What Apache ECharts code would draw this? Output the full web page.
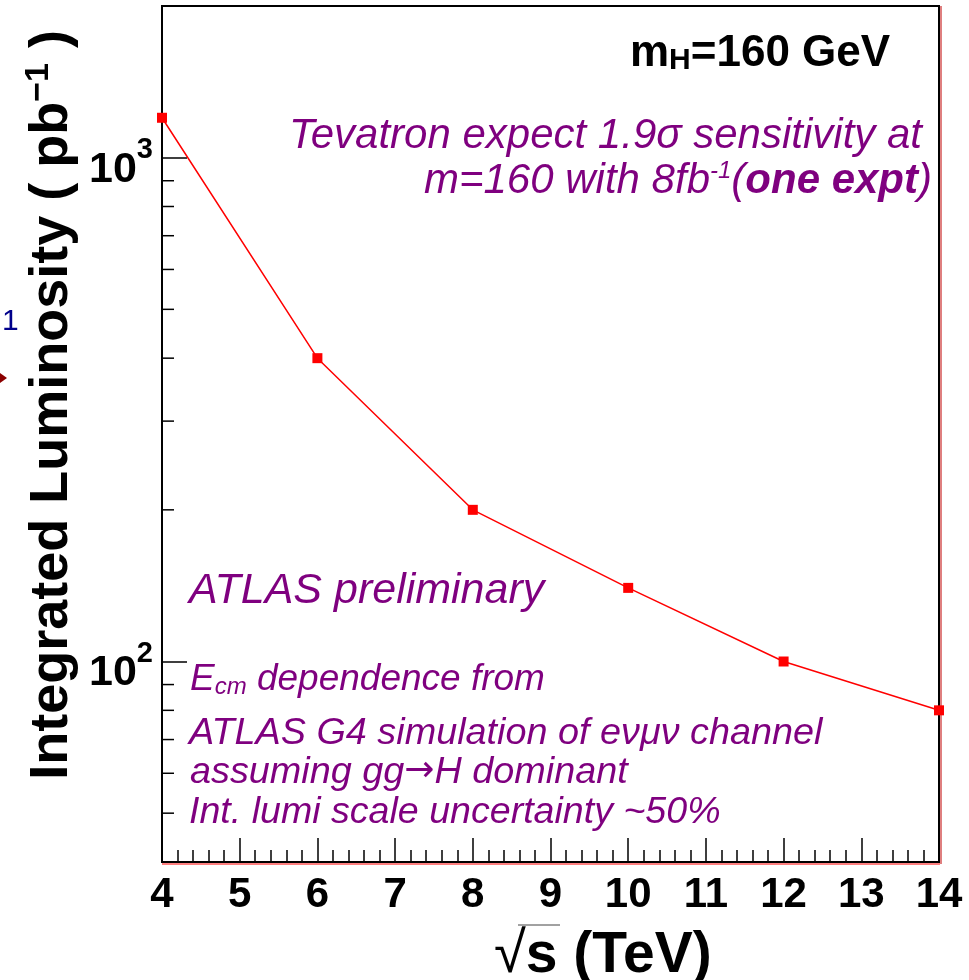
<!DOCTYPE html>
<html>
<head>
<meta charset="utf-8">
<script src="https://cdn.jsdelivr.net/npm/echarts@6/dist/echarts.min.js"></script>
<style>
  html, body { margin: 0; padding: 0; background: #fff; }
  #chart { width: 969px; height: 980px; }
</style>
</head>
<body>
<div id="chart"></div>
<script>
// sqrt(s) in TeV and the integrated luminosity needed (pb^-1)
let energies = [4, 6, 8, 10, 12, 14];
let lumi = [1200, 400, 200, 140, 100, 80];
// y axis range and the minor ticks of the log axis
let yMin = 40;
let yMax = 2000;
let yMinorTicks = [50, 60, 70, 80, 90, 200, 300, 400, 500, 600, 700, 800, 900];

const FONT = 'Liberation Sans';
const PURPLE = '#7f007f';

let myChart = echarts.init(document.getElementById('chart'), null, { renderer: 'canvas' });

let points = energies.map((e, i) => [e, lumi[i]]);
let minorData = yMinorTicks.map(v => [4, v]);

// purple italic text line helper
function note(x, y, text, size, align) {
	return {
		type: 'text', x: x, y: y,
		style: {
			text: text, textAlign: align || 'left', textVerticalAlign: 'bottom',
			fill: PURPLE, fontFamily: FONT, fontStyle: 'italic', fontSize: size
		}
	};
}

let option = {
	animation: false,
	backgroundColor: '#fff',
	grid: { left: 162, top: 6, right: 30, bottom: 118, show: true, borderColor: '#000', borderWidth: 2 },
	xAxis: {
		type: 'value',
		min: 4,
		max: 14,
		interval: 1,
		axisLine: { onZero: false, lineStyle: { color: '#000', width: 2 } },
		axisTick: { inside: true, length: 24, lineStyle: { color: '#000', width: 1.5 } },
		minorTick: { show: true, splitNumber: 5, length: 12, lineStyle: { color: '#000', width: 1.5 } },
		splitLine: { show: false },
		axisLabel: { margin: 12, color: '#000', fontFamily: FONT, fontWeight: 'bold', fontSize: 42 }
	},
	yAxis: {
		type: 'log',
		logBase: 10,
		min: yMin,
		max: yMax,
		axisLine: { lineStyle: { color: '#000', width: 2 } },
		axisTick: { inside: true, length: 25, lineStyle: { color: '#000', width: 1.5 } },
		splitLine: { show: false },
		axisLabel: {
			margin: 9,
			formatter: function (v) {
				let p = Math.log10(v);
				if (Math.abs(p - Math.round(p)) > 1e-6) return '';
				return '{b|10}{s|' + Math.round(p) + '}';
			},
			rich: {
				b: { color: '#000', fontFamily: FONT, fontWeight: 'bold', fontSize: 43, padding: [24, 0, 0, 0] },
				s: { color: '#000', fontFamily: FONT, fontWeight: 'bold', fontSize: 29, padding: [0, 0, 15, 0] }
			}
		}
	},
	series: [
		{
			type: 'custom',
			clip: false,
			silent: true,
			data: minorData,
			renderItem: function (params, api) {
				let pt = api.coord([api.value(0), api.value(1)]);
				return {
					type: 'line',
					shape: { x1: pt[0], y1: pt[1], x2: pt[0] + 12, y2: pt[1] },
					style: { stroke: '#000', lineWidth: 1.5 }
				};
			}
		},
		{
			type: 'line',
			data: points,
			symbol: 'rect',
			symbolSize: 10,
			clip: false,
			lineStyle: { color: '#ff0000', width: 1.5 },
			itemStyle: { color: '#ff0000' }
		}
	],
	graphic: [
		// red edge seen along the bottom and right of the frame
		{ type: 'line', shape: { x1: 162, y1: 864, x2: 940, y2: 864 }, style: { stroke: '#ff0000', lineWidth: 1 } },
		{ type: 'line', shape: { x1: 941, y1: 6, x2: 941, y2: 864 }, style: { stroke: '#c00000', lineWidth: 1 } },
		{
			type: 'text', x: 52, y: 30, rotation: Math.PI / 2,
			style: {
				text: '{t|Integrated Luminosity ( pb}{s|−1}{t| )}',
				textAlign: 'right', textVerticalAlign: 'middle',
				rich: {
					t: { fill: '#000', fontFamily: FONT, fontWeight: 'bold', fontSize: 54 },
					s: { fill: '#000', fontFamily: FONT, fontWeight: 'bold', fontSize: 34, padding: [0, 0, 26, 0] }
				}
			}
		},
		{
			type: 'text', x: 494, y: 985,
			style: {
				text: '{r|√}{t|s (TeV)}',
				textVerticalAlign: 'bottom',
				rich: {
					r: { fill: '#000', fontFamily: FONT, fontSize: 58 },
					t: { fill: '#000', fontFamily: FONT, fontWeight: 'bold', fontSize: 57 }
				}
			}
		},
		{ type: 'line', shape: { x1: 518, y1: 925, x2: 560, y2: 925 }, style: { stroke: '#444', lineWidth: 1 } },
		{
			type: 'text', x: 630, y: 89,
			style: {
				text: '{t|m}{s|H}{t|=160 GeV}',
				textVerticalAlign: 'bottom',
				rich: {
					t: { fill: '#000', fontFamily: FONT, fontWeight: 'bold', fontSize: 44, padding: [0, 0, 13, 0] },
					s: { fill: '#000', fontFamily: FONT, fontWeight: 'bold', fontSize: 30 }
				}
			}
		},
		note(922, 157, 'Tevatron expect 1.9σ sensitivity at', 42, 'right'),
		{
			type: 'text', x: 932, y: 203,
			style: {
				text: '{t|m=160 with 8fb}{s|-1}{t|(}{b|one expt}{t|)}',
				textAlign: 'right', textVerticalAlign: 'bottom',
				rich: {
					t: { fill: PURPLE, fontFamily: FONT, fontStyle: 'italic', fontSize: 42 },
					s: { fill: PURPLE, fontFamily: FONT, fontStyle: 'italic', fontSize: 24, padding: [0, 0, 20, 0] },
					b: { fill: PURPLE, fontFamily: FONT, fontStyle: 'italic', fontWeight: 'bold', fontSize: 42 }
				}
			}
		},
		note(189, 613, 'ATLAS preliminary', 43),
		{
			type: 'text', x: 190, y: 713,
			style: {
				text: '{t|E}{s|cm}{t| dependence from}',
				textVerticalAlign: 'bottom',
				rich: {
					t: { fill: PURPLE, fontFamily: FONT, fontStyle: 'italic', fontSize: 37, padding: [0, 0, 15, 0] },
					s: { fill: PURPLE, fontFamily: FONT, fontStyle: 'italic', fontSize: 24 }
				}
			}
		},
		note(189, 752, 'ATLAS G4 simulation of eνμν channel', 37.8),
		{
			type: 'text', x: 190, y: 791,
			style: {
				text: '{t|assuming gg}{a|→}{t|H dominant}',
				textVerticalAlign: 'bottom',
				rich: {
					t: { fill: PURPLE, fontFamily: FONT, fontStyle: 'italic', fontSize: 37.8 },
					a: { fill: PURPLE, fontFamily: 'DejaVu Sans', fontSize: 36, padding: [0, 0, 1, 0] }
				}
			}
		},
		note(189, 832, 'Int. lumi scale uncertainty ~50%', 37.6),
		{
			type: 'text', x: 2, y: 337,
			style: { text: '1', textVerticalAlign: 'bottom', fill: '#00008b', fontFamily: FONT, fontSize: 30 }
		},
		{
			type: 'polygon',
			shape: { points: [[0, 373], [7, 378], [0, 383]] },
			style: { fill: '#8b0000' }
		}
	]
};

myChart.setOption(option);
</script>
</body>
</html>
